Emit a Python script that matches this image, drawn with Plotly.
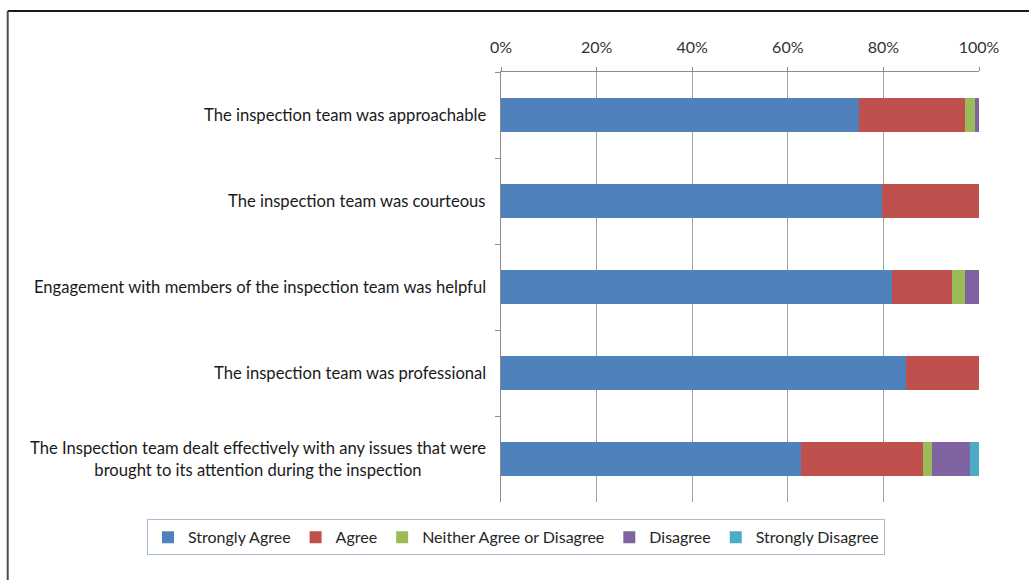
import plotly.graph_objects as go

# Survey statements, top to bottom.
STATEMENTS = [
    "The inspection team was approachable",
    "The inspection team was courteous",
    "Engagement with members of the inspection team was helpful",
    "The inspection team was professional",
    "The Inspection team dealt effectively with any issues that were<br>"
    "brought to its attention during the inspection",
]

# Percentage of responses per answer, one value per statement.
STRONGLY_AGREE = [74.8, 79.7, 81.8, 84.7, 62.7]
AGREE = [22.3, 20.3, 12.5, 15.3, 25.5]
NEITHER = [2.0, 0.0, 2.8, 0.0, 2.0]
DISAGREE = [0.9, 0.0, 2.9, 0.0, 7.9]
STRONGLY_DISAGREE = [0.0, 0.0, 0.0, 0.0, 1.9]

X_TICKS = [0, 20, 40, 60, 80, 100]
X_TICK_LABELS = ["0%", "20%", "40%", "60%", "80%", "100%"]

SERIES = [
    ("Strongly Agree", STRONGLY_AGREE, "#4F81BD"),
    ("Agree", AGREE, "#C0504D"),
    ("Neither Agree or Disagree", NEITHER, "#9BBB59"),
    ("Disagree", DISAGREE, "#8064A2"),
    ("Strongly Disagree", STRONGLY_DISAGREE, "#4BACC6"),
]

FONT = "Lato, 'Open Sans', sans-serif"
AXIS_GREY = "#8c8c8c"

fig = go.Figure()
for name, values, color in SERIES:
    fig.add_bar(
        x=values,
        y=STATEMENTS,
        name=name,
        orientation="h",
        marker=dict(color=color, line=dict(width=0)),
    )

# Category labels as annotations so wrapped lines stay centred.
for label in STATEMENTS:
    fig.add_annotation(
        x=0,
        xref="paper",
        y=label,
        yref="y",
        text=label,
        showarrow=False,
        xanchor="right",
        align="center",
        xshift=-13,
        font=dict(size=16.6, color="#1a1a1a", family=FONT),
    )

# Outer frame (top and left edges of the cropped chart border).
fig.add_shape(type="line", xref="paper", yref="paper",
              x0=-1.032, x1=1.2, y0=1.142, y1=1.142,
              line=dict(color="#1a1a1a", width=2))
fig.add_shape(type="line", xref="paper", yref="paper",
              x0=-1.032, x1=-1.032, y0=1.142, y1=-0.25,
              line=dict(color="#4d4d4d", width=2))

fig.update_layout(
    width=1029,
    height=580,
    barmode="stack",
    bargap=0.6,
    margin=dict(l=501, r=50, t=72, b=78, autoexpand=False),
    plot_bgcolor="white",
    paper_bgcolor="white",
    font=dict(family=FONT, size=16, color="#333333"),
    legend=dict(
        orientation="h",
        x=-0.7406,
        xanchor="left",
        y=-0.082,
        yanchor="middle",
        bordercolor="#a9bcd6",
        borderwidth=1,
        font=dict(size=16, color="#262626", family=FONT),
        itemwidth=30,
        traceorder="normal",
    ),
)
fig.update_xaxes(
    side="top",
    range=[0, 100],
    tickvals=X_TICKS,
    ticktext=X_TICK_LABELS,
    ticks="outside",
    ticklen=4,
    tickcolor=AXIS_GREY,
    ticklabelstandoff=8,
    tickfont=dict(size=16, color="#333333"),
    showline=True,
    linecolor=AXIS_GREY,
    showgrid=True,
    gridcolor="#a6a6a6",
    gridwidth=1,
    zeroline=False,
    fixedrange=True,
)
fig.update_yaxes(
    categoryorder="array",
    categoryarray=STATEMENTS,
    autorange="reversed",
    showticklabels=False,
    ticks="outside",
    tickson="boundaries",
    ticklen=5,
    tickcolor=AXIS_GREY,
    showline=True,
    linecolor=AXIS_GREY,
    showgrid=False,
    fixedrange=True,
)

fig.write_html(
    "out.html",
    config={"displayModeBar": False},
    post_script="document.body.style.margin = '0';",
)
